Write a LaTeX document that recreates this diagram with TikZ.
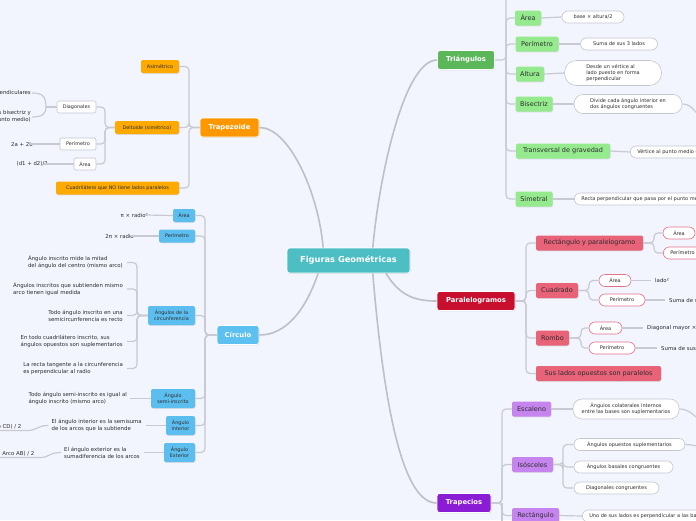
\documentclass[tikz,border=0pt]{standalone}
\usepackage{fontspec}
\setmainfont{DejaVu Sans}
\usetikzlibrary{shadows}

\definecolor{board}{RGB}{242,245,253}
\definecolor{linkgray}{RGB}{200,201,210}
\definecolor{leafgray}{RGB}{196,198,208}
\definecolor{ink}{RGB}{45,45,48}
\definecolor{centreC}{RGB}{76,190,196}
\definecolor{triD}{RGB}{92,182,90}
\definecolor{triL}{RGB}{148,234,140}
\definecolor{trzD}{RGB}{255,152,0}
\definecolor{trzL}{RGB}{255,170,0}
\definecolor{cirD}{RGB}{92,192,240}
\definecolor{cirL}{RGB}{92,190,238}
\definecolor{parD}{RGB}{200,16,46}
\definecolor{parL}{RGB}{232,98,120}
\definecolor{parB}{RGB}{226,112,136}
\definecolor{trpD}{RGB}{138,28,214}
\definecolor{trpL}{RGB}{198,132,238}

\newcommand{\fsz}[2]{\fontsize{#1}{#2}\selectfont}

\tikzstyle{shade}=[drop shadow={opacity=0.2, shadow xshift=0.5pt, shadow yshift=-0.8pt}]
\tikzstyle{link}=[draw=linkgray, line width=1.2pt, rounded corners=4pt]
\tikzstyle{mainlink}=[draw=linkgray!95!black, line width=1.6pt]
\tikzstyle{centre}=[rectangle, rounded corners=2.5pt, fill=centreC, draw=white, line width=0.8pt, text=white, font=\fsz{8.3}{10}\bfseries, minimum width=123pt, minimum height=25pt, inner sep=0pt, shade]
\tikzstyle{topic}=[rectangle, rounded corners=2.5pt, draw=white, line width=0.8pt, text=white, font=\fsz{6.8}{8}\bfseries, minimum height=19pt, inner sep=0pt, shade]
\tikzstyle{sub}=[rectangle, rounded corners=2pt, text=ink, font=\fsz{6.5}{8}, minimum height=15pt, inner xsep=4pt, inner ysep=0pt, shade]
\tikzstyle{small}=[rectangle, rounded corners=2pt, text=ink, font=\fsz{4.9}{6}, align=center, minimum height=13pt, inner xsep=3pt, inner ysep=0pt, shade]
\tikzstyle{pill}=[rectangle, rounded corners=6pt, fill=white, draw=leafgray, line width=0.6pt, text=ink, font=\fsz{5}{6.2}, minimum height=12pt, inner xsep=7pt, inner ysep=0pt]
\tikzstyle{box}=[rectangle, rounded corners=2pt, fill=white, draw=leafgray, line width=0.6pt, text=ink, font=\fsz{4.9}{6}, minimum height=12pt, inner sep=0pt]
\tikzstyle{plain}=[text=ink, font=\fsz{5.4}{7}, align=left, inner sep=1pt]

\begin{document}
\begin{tikzpicture}[x=1pt, y=-1pt]
\clip (0,0) rectangle (696,520);
\fill[board] (0,0) rectangle (696,520);

% centre and the five topics
\node[centre] (centre) at (348.5,260.5) {Figuras Geométricas};
\node[topic, fill=triD, minimum width=57pt] (tri) at (466,60) {Triángulos};
\node[topic, fill=trzD, minimum width=59pt] (trz) at (229.5,127.5) {Trapezoide};
\node[topic, fill=cirD, minimum width=42pt] (cir) at (238,335) {Círculo};
\node[topic, fill=parD, minimum width=78pt] (par) at (476,301) {Paralelogramos};
\node[topic, fill=trpD, minimum width=54pt] (trp) at (464,503) {Trapecios};

\draw[mainlink] (centre.153) .. controls (318,190) and (288,127) .. (trz.east);
\draw[mainlink] (centre.28) .. controls (380,170) and (405,60) .. (tri.west);
\draw[mainlink] (centre.203) .. controls (305,312) and (285,335) .. (cir.east);
\draw[mainlink] (centre.-19) .. controls (400,296) and (415,301) .. (par.west);
\draw[mainlink] (centre.-28) .. controls (385,420) and (405,503) .. (trp.west);

% Triangulos
\coordinate (trisp) at (506,60);
\coordinate (tritop) at (506,-6);
\node[sub, fill=triL, minimum width=26pt] (tarea) at (528,18) {Área};
\node[sub, fill=triL, minimum width=43pt] (tper) at (537,44) {Perímetro};
\node[sub, fill=triL, minimum width=28pt] (talt) at (530,74) {Altura};
\node[sub, fill=triL, minimum width=37pt] (tbis) at (534,104) {Bisectriz};
\node[sub, fill=triL, minimum width=94pt] (ttra) at (563,151) {Transversal de gravedad};
\node[sub, fill=triL, minimum width=37pt] (tsim) at (534,199) {Simetral};
\draw[link] (tri.east) -- (trisp) -- (tritop);
\foreach \c in {tarea,tper,talt,tbis,ttra,tsim}{ \draw[link] (trisp) |- (\c.west); }

\node[pill, minimum width=62pt] (tareal) at (593,17) {base × altura/2};
\node[pill, minimum width=77pt] (tperl) at (619,44) {Suma de sus 3 lados};
\node[pill, rounded corners=12pt, align=left, minimum width=97pt, minimum height=25pt] (taltl) at (613,73) {Desde un vértice al\\lado puesto en forma\\perpendicular};
\node[pill, rounded corners=9pt, align=left, minimum width=108pt, minimum height=19pt] (tbisl) at (628,104) {Divide cada ángulo interior en\\dos ángulos congruentes};
\node[pill, anchor=west] (ttral) at (630,152) {Vértice al punto medio del lado opuesto};
\node[pill, anchor=west] (tsiml) at (574,199) {Recta perpendicular que pasa por el punto medio};
\foreach \a/\b in {tarea/tareal,tper/tperl,talt/taltl,tbis/tbisl,ttra/ttral,tsim/tsiml}{ \draw[link] (\a.east) -- (\b.west); }
\coordinate (bisoff) at (702,118);
\draw[link] (tbisl.east) .. controls (692,104) and (694,112) .. (bisoff);

% Trapezoide
\coordinate (trzsp) at (189,127.5);
\node[small, fill=trzL, minimum width=38pt] (asim) at (160,66.5) {Asimétrico};
\node[small, fill=trzL, minimum width=64pt] (delt) at (147,127.5) {Deltoide (simétrico)};
\node[small, fill=trzL, minimum width=123pt] (nopar) at (117.5,188) {Cuadrilátero que NO tiene lados paralelos};
\foreach \c in {asim,delt,nopar}{ \draw[link] (trz.west) -- (trzsp) |- (\c.east); }

\coordinate (deltsp) at (105,127.5);
\node[box, minimum width=39pt] (ddiag) at (76.5,107) {Diagonales};
\node[box, minimum width=36pt] (dper) at (78,144) {Perímetro};
\node[box, minimum width=22pt] (darea) at (85,164) {Área};
\foreach \c in {ddiag,dper,darea}{ \draw[link] (delt.west) -- (deltsp) |- (\c.east); }
\node[plain, anchor=east] (dperp) at (32,93) {Son perpendiculares};
\node[plain, anchor=east, align=right] (dbis) at (32,117) {Una es bisectriz y\\(corta a la otra en su punto medio)};
\coordinate (diagsp) at (46,107);
\draw[link] (ddiag.west) -- (diagsp);
\draw[link] (diagsp) .. controls (46,96) and (42,93) .. (dperp.east);
\draw[link] (diagsp) .. controls (46,114) and (42,117) .. (dbis.east);
\node[plain, anchor=east] (dperv) at (34,144) {2a + 2b};
\node[plain, anchor=east] (dareav) at (49,164) {(d1 + d2)/2};
\draw[link] (dper.west) -- ([xshift=-5pt]dperv.east);
\draw[link] (darea.west) -- ([xshift=-5pt]dareav.east);

% Circulo
\coordinate (cirsp) at (205,335);
\node[small, fill=cirL, minimum width=22pt] (carea) at (184,215.5) {Área};
\node[small, fill=cirL, minimum width=36pt] (cper) at (177,236) {Perímetro};
\node[small, fill=cirL, minimum width=47pt, minimum height=19pt] (cang) at (171.5,315.5) {Ángulos de la\\circunferencia};
\node[small, fill=cirL, minimum width=44pt, minimum height=19pt] (csemi) at (173,398.5) {Ángulo\\semi-inscrito};
\node[small, fill=cirL, minimum width=29pt, minimum height=19pt] (cint) at (180.5,425.5) {Ángulo\\interior};
\node[small, fill=cirL, minimum width=31pt, minimum height=19pt] (cext) at (179.5,452.5) {Ángulo\\Exterior};
\foreach \c in {carea,cper,cang,csemi,cint,cext}{ \draw[link] (cir.west) -- (cirsp) |- (\c.east); }

\node[plain, anchor=east] (careav) at (149,215) {π × radio²};
\node[plain, anchor=east] (cperv) at (135,236) {2π × radio};
\draw[link] (carea.west) -- ([xshift=-4pt]careav.east);
\draw[link] (cper.west) -- ([xshift=-4pt]cperv.east);

\coordinate (angsp) at (137,315.5);
\node[plain, anchor=east] (ang1) at (124,262.5) {Ángulo inscrito mide la mitad\\del ángulo del centro (mismo arco)};
\node[plain, anchor=east] (ang2) at (124,289) {Ángulos inscritos que subtienden mismo\\arco tienen igual medida};
\node[plain, anchor=east] (ang3) at (124,315.5) {Todo ángulo inscrito en una\\semicircunferencia es recto};
\node[plain, anchor=east] (ang4) at (124,341.5) {En todo cuadrilátero inscrito, sus\\ángulos opuestos son suplementarios};
\node[plain, anchor=east] (ang5) at (124,368.5) {La recta tangente a la circunferencia\\es perpendicular al radio};
\foreach \c in {ang1,ang2,ang3,ang4,ang5}{ \draw[link] (cang.west) -- (angsp) |- ([xshift=3pt]\c.east); }

\node[plain, anchor=east] (semit) at (128,398.5) {Todo ángulo semi-inscrito es igual al\\ángulo inscrito (mismo arco)};
\draw[link] (csemi.west) -- ([xshift=2pt]semit.east);
\node[plain, anchor=east] (intt) at (143,425.5) {El ángulo interior es la semisuma\\de los arcos que la subtiende};
\draw[link] (cint.west) -- ([xshift=3pt]intt.east);
\node[plain, anchor=east] (extt) at (141,452.5) {El ángulo exterior es la\\sumadiferencia de los arcos};
\draw[link] (cext.west) -- ([xshift=3pt]extt.east);

\node[plain, anchor=south east, inner sep=1.5pt] (intres) at (23,430.5) {(Arco AB + Arco CD) / 2};
\draw[link] ([xshift=-2pt]intt.west) .. controls (36,425.5) and (38,430.5) .. (intres.south east) -- (intres.south west);
\node[plain, anchor=south east, inner sep=1.5pt] (extres) at (36,457.5) {(Arco CD − Arco AB) / 2};
\draw[link] ([xshift=-2pt]extt.west) .. controls (48,452.5) and (50,457.5) .. (extres.south east) -- (extres.south west);

% Paralelogramos
\coordinate (parsp) at (526,301);
\node[sub, fill=parL, minimum width=107pt] (prect) at (589.5,243) {Rectángulo y paralelogramo};
\node[sub, fill=parL, minimum width=42pt] (pcuad) at (557,290.5) {Cuadrado};
\node[sub, fill=parL, minimum width=33pt] (prom) at (552.5,338) {Rombo};
\node[sub, fill=parL, minimum width=125pt] (plad) at (598.5,373.5) {Sus lados opuestos son paralelos};
\foreach \c in {prect,pcuad,prom,plad}{ \draw[link] (par.east) -- (parsp) |- (\c.west); }

\coordinate (rectsp) at (654,243);
\node[pill, draw=parB, minimum width=32pt] (rarea) at (679,233) {Área};
\node[pill, draw=parB, anchor=west] (rper) at (663,253) {Perímetro};
\foreach \c in {rarea,rper}{ \draw[link] (prect.east) -- (rectsp) |- (\c.west); }

\coordinate (cuadsp) at (589,290.5);
\node[pill, draw=parB, minimum width=32pt] (qarea) at (615,280.5) {Área};
\node[pill, draw=parB, minimum width=46pt] (qper) at (622,300) {Perímetro};
\foreach \c in {qarea,qper}{ \draw[link] (pcuad.east) -- (cuadsp) |- (\c.west); }
\node[plain, anchor=west] (qareav) at (654,280.5) {lado²};
\node[plain, anchor=west] (qperv) at (668,300) {Suma de sus 4 lados};
\draw[link] (qarea.east) -- ([xshift=-3pt]qareav.west);
\draw[link] (qper.east) -- ([xshift=-3pt]qperv.west);

\coordinate (romsp) at (581,338);
\node[pill, draw=parB, minimum width=33pt] (barea) at (605.5,328) {Área};
\node[pill, draw=parB, minimum width=46pt] (bper) at (612,348) {Perímetro};
\foreach \c in {barea,bper}{ \draw[link] (prom.east) -- (romsp) |- (\c.west); }
\node[plain, anchor=west] (bareav) at (646,328) {Diagonal mayor × diagonal menor / 2};
\node[plain, anchor=west] (bperv) at (660,348) {Suma de sus lados};
\draw[link] (barea.east) -- ([xshift=-3pt]bareav.west);
\draw[link] (bper.east) -- ([xshift=-3pt]bperv.west);

% Trapecios
\coordinate (trpsp) at (502,503);
\coordinate (trpbot) at (502,530);
\node[sub, fill=trpL, minimum width=39pt] (esc) at (531.5,409) {Escaleno};
\node[sub, fill=trpL, minimum width=41pt] (iso) at (532.5,464.5) {Isósceles};
\node[sub, fill=trpL, minimum width=47pt] (rec) at (535.5,515.5) {Rectángulo};
\foreach \c in {esc,iso,rec}{ \draw[link] (trp.east) -- (trpsp) |- (\c.west); }
\draw[link] (trpsp) -- (trpbot);

\node[pill, rounded corners=9pt, align=center, minimum width=106pt, minimum height=20pt] (escl) at (626,409) {Ángulos colaterales internos\\entre las bases son suplementarios};
\draw[link] (esc.east) -- (escl.west);
\coordinate (escoff) at (702,421);
\draw[link] (escl.east) .. controls (690,409) and (693,416) .. (escoff);

\coordinate (isosp) at (563,464.5);
\node[pill, minimum width=111pt] (iso1) at (629.5,444.5) {Ángulos opuestos suplementarios};
\node[pill, minimum width=99pt] (iso2) at (623.5,467) {Ángulos basales congruentes};
\node[pill, minimum width=85pt] (iso3) at (616.5,488) {Diagonales congruentes};
\foreach \c in {iso1,iso2,iso3}{ \draw[link] (iso.east) -- (isosp) |- (\c.west); }
\coordinate (isooff) at (702,447);
\draw[link] (iso1.east) .. controls (692,444.5) and (695,446) .. (isooff);

\node[pill, anchor=west] (recl) at (582,516) {Uno de sus lados es perpendicular a las bases};
\draw[link] (rec.east) -- (recl.west);
\end{tikzpicture}
\end{document}
